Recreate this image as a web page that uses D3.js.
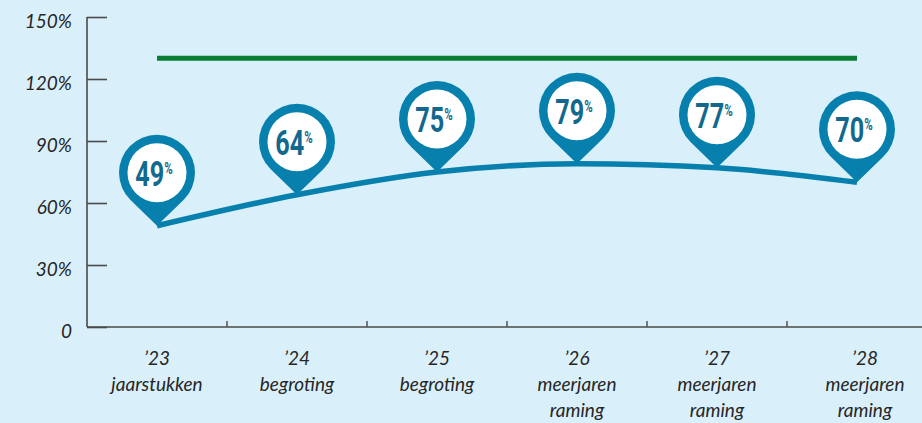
<!DOCTYPE html>
<html>
<head>
<meta charset="utf-8">
<script src="https://cdn.jsdelivr.net/npm/d3@7"></script>
<style>
  body { margin: 0; background: #d9f0fb; }
  svg { display: block; }
</style>
</head>
<body>
<div class="canvas"></div>
<script>
const svgWidth = 922;
const svgHeight = 423;

// chart data
const years = ['’23', '’24', '’25', '’26', '’27', '’28'];
const subLabels = [['jaarstukken'], ['begroting'], ['begroting'], ['meerjaren', 'raming'], ['meerjaren', 'raming'], ['meerjaren', 'raming']];
const values = [49, 64, 75, 79, 77, 70];
const norm = 130;
const yTicks = [0, 30, 60, 90, 120, 150];

const blue = '#0880ad';
const textBlue = '#12698e';

const svg = d3.select('.canvas')
    .append('svg')
    .attr('width', svgWidth)
    .attr('height', svgHeight);

svg.append('rect')
    .attr('width', svgWidth)
    .attr('height', svgHeight)
    .attr('fill', '#d9f0fb');

const margin = { left: 87, top: 17, bottom: 327 };

const x = d3.scaleBand()
    .domain(years)
    .range([margin.left, margin.left + 140 * years.length]);

const y = d3.scaleLinear()
    .domain([0, 150])
    .range([margin.bottom, margin.top]);

const cx = d => x(d) + x.bandwidth() / 2;

// y axis
const yAxis = d3.axisRight(y)
    .tickValues(yTicks)
    .tickSize(20)
    .tickFormat('');

const yAxisGroup = svg.append('g')
    .attr('transform', `translate(${margin.left}, 0)`)
    .call(yAxis);
yAxisGroup.select('.domain').remove();
yAxisGroup.selectAll('line').attr('stroke', '#4a4a4a').attr('stroke-width', 1.6);

svg.append('line')
    .attr('x1', margin.left).attr('x2', margin.left)
    .attr('y1', y(150)).attr('y2', y(0))
    .attr('stroke', '#4a4a4a').attr('stroke-width', 1.6);

svg.selectAll('.y-label')
    .data(yTicks)
    .enter()
    .append('text')
    .attr('class', 'y-label')
    .attr('x', 72)
    .attr('y', d => y(d) + 11)
    .attr('text-anchor', 'end')
    .attr('font-family', 'Lato, sans-serif')
    .attr('font-style', 'italic')
    .attr('font-size', 19)
    .attr('fill', '#262626')
    .text(d => d === 0 ? '0' : d + '%');

// x axis
svg.append('line')
    .attr('x1', margin.left).attr('x2', svgWidth)
    .attr('y1', y(0)).attr('y2', y(0))
    .attr('stroke', '#4a4a4a').attr('stroke-width', 1.6);

svg.selectAll('.x-tick')
    .data(years.slice(1))
    .enter()
    .append('line')
    .attr('class', 'x-tick')
    .attr('x1', d => x(d)).attr('x2', d => x(d))
    .attr('y1', y(0) - 6).attr('y2', y(0))
    .attr('stroke', '#4a4a4a').attr('stroke-width', 1.4);

const xLabels = svg.selectAll('.x-label')
    .data(years)
    .enter()
    .append('text')
    .attr('class', 'x-label')
    .attr('text-anchor', 'middle')
    .attr('font-family', 'Lato, sans-serif')
    .attr('font-style', 'italic')
    .attr('font-size', 19)
    .attr('fill', '#262626');

xLabels.each(function (d, i) {
    const t = d3.select(this);
    const lines = [d].concat(subLabels[i]);
    lines.forEach((line, j) => {
        t.append('tspan')
            .attr('x', cx(d) + (i === 5 ? 8 : 0))
            .attr('y', 365 + j * 26)
            .text(line);
    });
});

// norm line
svg.append('line')
    .attr('x1', cx(years[0])).attr('x2', cx(years[years.length - 1]))
    .attr('y1', y(norm)).attr('y2', y(norm))
    .attr('stroke', '#0a7d36')
    .attr('stroke-width', 5);

// value line
const line = d3.line()
    .x((d, i) => cx(years[i]))
    .y(d => y(d))
    .curve(d3.curveMonotoneX);

svg.append('path')
    .datum(values)
    .attr('d', line)
    .attr('fill', 'none')
    .attr('stroke', blue)
    .attr('stroke-width', 5.5);

// pins
const R = 38, r = 29.5, dist = 53;
const alpha = Math.asin(R / dist);
const tl = Math.sqrt(dist * dist - R * R);
const px = tl * Math.sin(alpha), py = -tl * Math.cos(alpha);
const pinPath = `M0,0 L${-px},${py} A${R},${R} 0 1 1 ${px},${py} Z`;

const pins = svg.selectAll('.pin')
    .data(values)
    .enter()
    .append('g')
    .attr('class', 'pin')
    .attr('transform', (d, i) => `translate(${cx(years[i])}, ${y(d)})`);

pins.append('path')
    .attr('d', pinPath)
    .attr('fill', blue);

pins.append('circle')
    .attr('cy', -dist)
    .attr('r', r)
    .attr('fill', 'white');

const label = pins.append('text')
    .attr('transform', `translate(-3, ${-dist + 13}) scale(0.72, 1)`)
    .attr('text-anchor', 'middle')
    .attr('font-family', 'Roboto, sans-serif')
    .attr('font-weight', 'bold')
    .attr('font-size', 35)
    .attr('fill', textBlue);

label.append('tspan').text(d => d);
label.append('tspan')
    .attr('font-size', 16)
    .attr('dy', -12)
    .text('%');
</script>
</body>
</html>
